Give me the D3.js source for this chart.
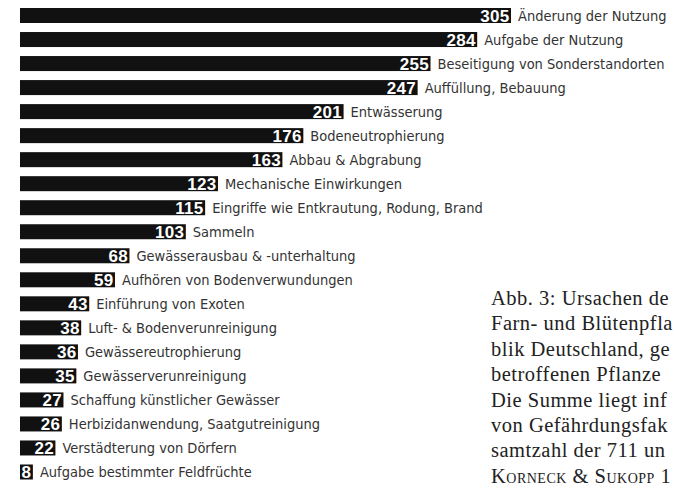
<!DOCTYPE html>
<html>
<head>
<meta charset="utf-8">
<script src="https://cdn.jsdelivr.net/npm/d3@7"></script>
<style>
  html, body { margin: 0; padding: 0; background: #fff; }
  svg { display: block; }
</style>
</head>
<body>
<svg id="chart" width="674" height="489"></svg>
<script>
const categories = [
  "Änderung der Nutzung",
  "Aufgabe der Nutzung",
  "Beseitigung von Sonderstandorten",
  "Auffüllung, Bebauung",
  "Entwässerung",
  "Bodeneutrophierung",
  "Abbau & Abgrabung",
  "Mechanische Einwirkungen",
  "Eingriffe wie Entkrautung, Rodung, Brand",
  "Sammeln",
  "Gewässerausbau & -unterhaltung",
  "Aufhören von Bodenverwundungen",
  "Einführung von Exoten",
  "Luft- & Bodenverunreinigung",
  "Gewässereutrophierung",
  "Gewässerverunreinigung",
  "Schaffung künstlicher Gewässer",
  "Herbizidanwendung, Saatgutreinigung",
  "Verstädterung von Dörfern",
  "Aufgabe bestimmter Feldfrüchte"
];
const values = [305, 284, 255, 247, 201, 176, 163, 123, 115, 103, 68, 59, 43, 38, 36, 35, 27, 26, 22, 8];

const captionLines = [
  "Abb. 3: Ursachen de",
  "Farn- und Blütenpfla",
  "blik Deutschland, ge",
  "betroffenen Pflanze",
  "Die Summe liegt inf",
  "von Gefährdungsfak",
  "samtzahl der 711 un",
  "Korneck & Sukopp 1"
];

const data = categories.map((c, i) => ({ cat: c, val: values[i] }));
const svg = d3.select("#chart");

const x = d3.scaleLinear().domain([0, 305]).range([20, 511]);
const y = d3.scalePoint().domain(categories).range([15.5, 472]);
const barH = 15;

const rows = svg.append("g").selectAll("g").data(data).join("g")
  .attr("transform", d => `translate(0,${y(d.cat)})`);

rows.append("rect")
  .attr("x", x(0))
  .attr("y", -barH / 2)
  .attr("width", d => x(d.val) - x(0))
  .attr("height", barH)
  .attr("fill", "#111");

rows.append("text")
  .attr("x", d => x(d.val) - 1.5)
  .attr("y", 0)
  .attr("dy", "0.36em")
  .attr("text-anchor", "end")
  .attr("fill", "#fff")
  .attr("font-family", "Liberation Sans, Arial, sans-serif")
  .attr("font-weight", "bold")
  .attr("font-size", 17)
  .attr("letter-spacing", 0.3)
  .text(d => d.val);

rows.append("text")
  .attr("x", d => x(d.val) + 7)
  .attr("y", 0)
  .attr("dy", "0.36em")
  .attr("fill", "#333")
  .attr("font-family", "DejaVu Sans Condensed, DejaVu Sans, sans-serif")
  .attr("font-size", 14.5)
  .text(d => d.cat);

svg.append("g").selectAll("text").data(captionLines).join("text")
  .attr("x", 491)
  .attr("y", (d, i) => 305 + i * 25.4)
  .attr("fill", "#222")
  .attr("font-family", "Liberation Serif, Times New Roman, serif")
  .attr("font-size", 20.5)
  .attr("letter-spacing", 0.5)
  .style("font-variant", (d, i) => i === captionLines.length - 1 ? "small-caps" : "normal")
  .text(d => d);
</script>
</body>
</html>
